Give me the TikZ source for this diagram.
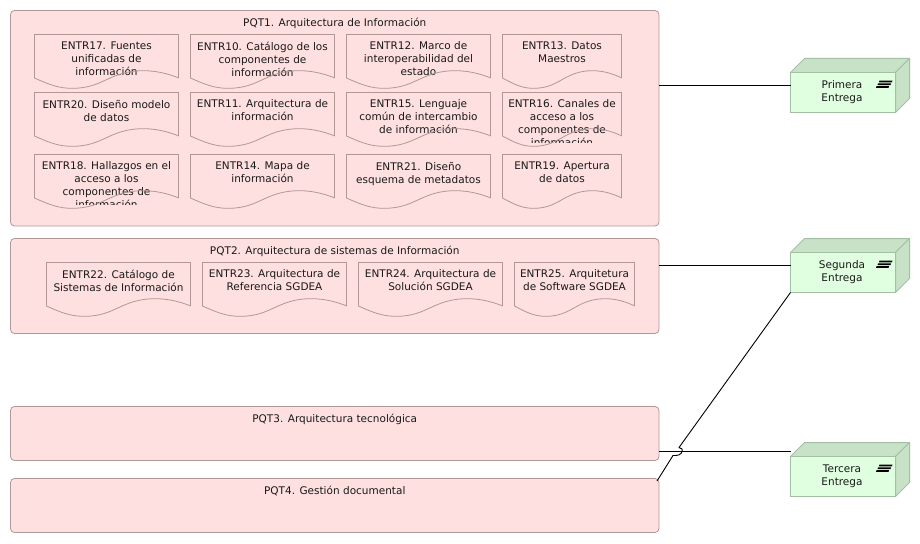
\documentclass[tikz,border=0pt]{standalone}
\usepackage{fontspec}
\setmainfont{DejaVu Sans}
\usetikzlibrary{calc}
\definecolor{pk}{HTML}{FFE0E0}
\definecolor{pkl}{HTML}{B29797}
\definecolor{gf}{HTML}{E0FFE0}
\definecolor{gd}{HTML}{C8E2C8}
\definecolor{gl}{HTML}{A3C0A3}
\tikzset{
  pqtbox/.style={draw=pkl,fill=pk,line width=0.8pt,rounded corners=4pt,anchor=north west,inner sep=0pt,outer sep=0pt},
  lbl/.style={font=\fontsize{10.5}{13}\selectfont,align=center,inner sep=0pt,text=black!90,anchor=north},
  docline/.style={draw=pkl,line width=0.8pt},
  conn/.style={draw=black,line width=0.9pt},
  frontface/.style={draw=gl,fill=gf,line width=1pt,anchor=north west,inner sep=0pt,outer sep=0pt,minimum width=105pt,minimum height=40pt},
  sideface/.style={draw=gl,fill=gd,line width=1pt,line join=round},
}
\newcommand{\pqtn}[6]{% name x y w h title
  \node[pqtbox,minimum width=#4pt,minimum height=#5pt] (#1) at (#2,#3) {};
  \node[lbl] (#1t) at ($(#2,#3)+(0.5*#4,7.2)$) {#6};
}
\newcommand{\wavepath}{(0,0) -- (1,0) -- (1,43.3)
    .. controls (0.93,39.5) and (0.85,36.2) .. (0.757,36.2)
    .. controls (0.52,36.2) and (0.48,53.8) .. (0.264,53.8)
    .. controls (0.17,54) and (0.10,50) .. (0,43.5) -- cycle}
\newcommand{\docn}[5]{% name x top w text
  \begin{scope}[shift={(#2,#3)},x=#4pt]
    \path[fill=pk] \wavepath;
    \begin{scope}
      \clip (0,0) rectangle (1,50);
      \node[lbl] (#1) at (0.5,7.2) {#5};
    \end{scope}
    \draw[docline] \wavepath;
  \end{scope}
}
\newcommand{\entn}[3]{% name top-of-front text
  \draw[sideface] (790.5,#2) -- ++(14,-14) -- ++(105,0) -- ++(-14,14) -- cycle;
  \draw[sideface] (895.5,#2) -- ++(14,-14) -- ++(0,40) -- ++(-14,14) -- cycle;
  \node[frontface] (#1) at (790.5,#2) {};
  \node[lbl] (#1t) at (842,#2+7.8) {#3};
  \fill[black] (879.5,#2+8) -- (892.5,#2+8) -- (892,#2+9.8) -- (879,#2+9.8) -- cycle;
  \fill[black] (878,#2+10.9) -- (891,#2+10.9) -- (890.5,#2+12.6) -- (877.5,#2+12.6) -- cycle;
  \fill[black] (876.5,#2+13.7) -- (889,#2+13.7) -- (888.5,#2+15.4) -- (876,#2+15.4) -- cycle;
}
\begin{document}
\begin{tikzpicture}[x=1pt,y=-1pt]
\useasboundingbox (0,0) rectangle (920,543);
\pqtn{pqta}{10.5}{10.5}{648.5}{215.5}{PQT1. Arquitectura de Información}
\pqtn{pqtb}{10.5}{238.5}{648.5}{95}{PQT2. Arquitectura de sistemas de Información}
\pqtn{pqtc}{10.5}{406.5}{648.5}{54}{PQT3. Arquitectura tecnológica}
\pqtn{pqtd}{10.5}{478.5}{648.5}{54}{PQT4. Gestión documental}
\docn{e17}{34.5}{34.5}{144}{ENTR17. Fuentes\\unificadas de\\información}
\docn{e10}{190.5}{34.5}{144}{ENTR10. Catálogo de los\\componentes de\\información}
\docn{e12}{346.5}{34.5}{144}{ENTR12. Marco de\\interoperabilidad del\\estado}
\docn{e13}{502.5}{34.5}{119}{ENTR13. Datos\\Maestros}
\docn{e20}{34.5}{92.5}{144}{ENTR20. Diseño modelo\\de datos}
\docn{e11}{190.5}{92.5}{144}{ENTR11. Arquitectura de\\información}
\docn{e15}{346.5}{92.5}{144}{ENTR15. Lenguaje\\común de intercambio\\de información}
\docn{e16}{502.5}{92.5}{119}{ENTR16. Canales de\\acceso a los\\componentes de\\información}
\docn{e18}{34.5}{154.5}{144}{ENTR18. Hallazgos en el\\acceso a los\\componentes de\\información}
\docn{e14}{190.5}{154.5}{144}{ENTR14. Mapa de\\información}
\docn{e21}{346.5}{154.5}{144}{ENTR21. Diseño\\esquema de metadatos}
\docn{e19}{502.5}{154.5}{119}{ENTR19. Apertura\\de datos}
\docn{e22}{46.5}{262.5}{144}{ENTR22. Catálogo de\\Sistemas de Información}
\docn{e23}{202.5}{262.5}{144}{ENTR23. Arquitectura de\\Referencia SGDEA}
\docn{e24}{358.5}{262.5}{144}{ENTR24. Arquitectura de\\Solución SGDEA}
\docn{e25}{514.5}{262.5}{120}{ENTR25. Arquitetura\\de Software SGDEA}
\entn{ga}{72.5}{Primera\\Entrega}
\entn{gb}{252.5}{Segunda\\Entrega}
\entn{gc}{456.5}{Tercera\\Entrega}
\coordinate (pa) at (790.5,85.5);
\coordinate (pb) at (790.5,265.5);
\coordinate (pc) at (790.5,451.5);
\coordinate (dout) at (657,481);
\coordinate (ja) at (673,455.5);
\coordinate (jb) at (679,447.5);
\draw[conn] (pqta.east |- pa) -- (pa);
\draw[conn] (pqtb.east |- pb) -- (pb);
\draw[conn] (pqtc.east |- pc) -- (pc);
\draw[conn,line join=round] (dout) -- (ja) -- (676,455.5) .. controls (680,455.5) and (683.5,452) .. (682,449) -- (jb) -- (gb.south west);
\end{tikzpicture}
\end{document}
